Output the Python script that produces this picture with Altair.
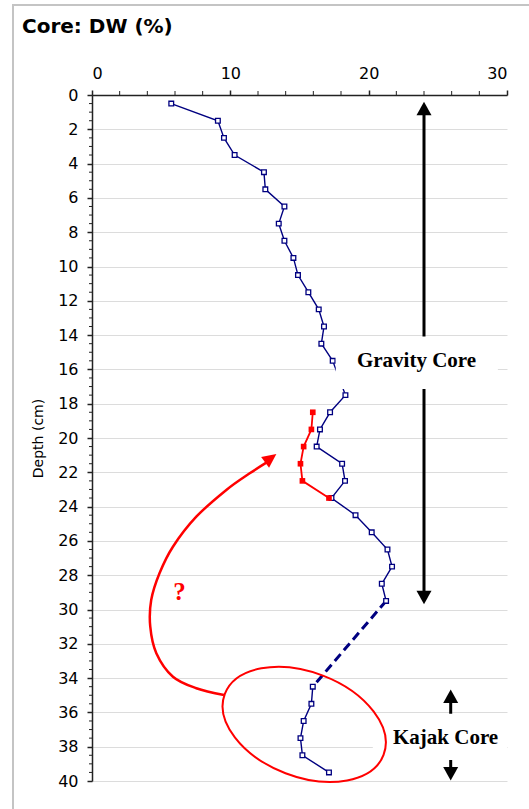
import altair as alt
import pandas as pd

# Gravity core: dry weight (%) by depth (cm)
gravity_depth = [0.5, 1.5, 2.5, 3.5, 4.5, 5.5, 6.5, 7.5, 8.5, 9.5, 10.5, 11.5, 12.5, 13.5,
                 14.5, 15.5, 17.5, 18.5, 19.5, 20.5, 21.5, 22.5, 23.5, 24.5, 25.5, 26.5,
                 27.5, 28.5, 29.5]
gravity_dw = [5.73, 9.10, 9.54, 10.31, 12.43, 12.53, 13.91, 13.50, 13.91, 14.56, 14.89, 15.64,
              16.39, 16.77, 16.58, 17.40, 18.32, 17.21, 16.48, 16.24, 18.08, 18.29, 17.31,
              19.05, 20.22, 21.36, 21.69, 20.95, 21.26]

# Kajak core: dry weight (%) by depth (cm)
kajak_depth = [34.5, 35.5, 36.5, 37.5, 38.5, 39.5]
kajak_dw = [15.96, 15.86, 15.30, 15.07, 15.21, 17.13]

# Kajak profile moved up to the matching stretch of the gravity core
shifted_depth = [18.5, 19.5, 20.5, 21.5, 22.5, 23.5]
shifted_dw = kajak_dw

# Dashed link between the two cores
link_depth = [29.5, 34.5]
link_dw = [21.26, 15.96]

# Axis ticks
x_major = [0, 10, 20, 30]
x_minor = [2, 4, 6, 8, 12, 14, 16, 18, 22, 24, 26, 28]
y_major = list(range(0, 41, 2))
y_minor = [i * 0.5 for i in range(81) if i % 4]

# Annotations (data coordinates)
gravity_arrow_dw = 24.0
gravity_stem = [1.0, 29.0]
gravity_heads = [0.78, 29.3]
kajak_arrow_dw = 25.93
kajak_stem = [35.3, 39.3]
kajak_heads = [35.06, 39.57]
head_angles = [0, 180]
label_text = ["Gravity Core", "Kajak Core"]
label_dw = [23.46, 25.56]
label_depth = [15.5, 37.47]
box_dw = [17.62, 20.3]
box_dw2 = [29.34, 30.0]
box_depth = [14.08, 36.08]
box_depth2 = [17.15, 38.78]
ellipse_dw, ellipse_depth, ellipse_angle = 15.34, 36.7, 21
curve_dw = [9.54, 7.54, 5.85, 4.65, 4.21, 4.28, 4.88, 5.85, 7.54, 9.71, 11.40, 12.72]
curve_depth = [34.99, 34.59, 33.92, 32.55, 30.99, 29.45, 27.89, 26.34, 24.59, 23.03, 22.06, 21.38]
curve_head = (12.92, 21.18, 53.5)
question = (6.33, 28.96)
chart_title = "Core: DW (%)"

NAVY = "#000080"
RED = "#FF0000"
HEAD = "M0,-0.9L1,0.9L-1,0.9Z"
RED_HEAD = "M0,-1L0.95,1L-0.95,1Z"
ELLIPSE = ("M1,0C1,0.34 0.552,0.615 0,0.615C-0.552,0.615 -1,0.34 -1,0"
           "C-1,-0.34 -0.552,-0.615 0,-0.615C0.552,-0.615 1,-0.34 1,0Z")

x_scale = alt.Scale(domain=[0, 30], nice=False, zero=False)
y_scale = alt.Scale(domain=[0, 40], nice=False, zero=False, reverse=True)
x_axis = alt.Axis(orient="top", values=x_major, title=None, grid=False, format="d",
                  tickSize=5, labelPadding=9, labelFont="DejaVu Sans", labelFontSize=16,
                  labelColor="black", domainColor="#222", domainWidth=1.5,
                  tickColor="#222", tickWidth=1.5)
y_axis = alt.Axis(orient="left", values=y_major, title="Depth (cm)", grid=True,
                  gridColor="#dcdcdc", gridWidth=1, format="d",
                  tickSize=5, labelPadding=9, labelFont="DejaVu Sans", labelFontSize=16,
                  labelColor="black", domainColor="#222", domainWidth=1.5,
                  tickColor="#222", tickWidth=1.5,
                  titleFont="DejaVu Sans", titleFontSize=14, titleFontWeight="normal",
                  titleColor="black", titleX=-54, titleY=343, titleBaseline="middle",
                  titleAngle=270)


def X(field="dw"):
    return alt.X(f"{field}:Q", scale=x_scale, axis=x_axis)


def Y(field="depth"):
    return alt.Y(f"{field}:Q", scale=y_scale, axis=y_axis)


one = pd.DataFrame({"k": [0]})

# Light grey frame around the whole figure
frame = alt.Chart(one).mark_rect(fillOpacity=0, stroke="#c4c4c4", strokeWidth=2).encode(
    x=alt.value(-79), x2=alt.value(700), y=alt.value(-90), y2=alt.value(900))

heading = alt.Chart(pd.DataFrame({"t": [chart_title]})).mark_text(
    font="DejaVu Sans", fontWeight="bold", fontSize=20, color="black",
    align="left", baseline="alphabetic").encode(
    x=alt.value(-70), y=alt.value(-62), text="t:N")

y_minor_ticks = alt.Chart(pd.DataFrame({"depth": y_minor})).mark_rule(
    color="#222", strokeWidth=1).encode(y=Y(), x=alt.value(-3), x2=alt.value(0))
x_minor_ticks = alt.Chart(pd.DataFrame({"dw": x_minor})).mark_rule(
    color="#222", strokeWidth=1).encode(x=X(), y=alt.value(-4), y2=alt.value(0))

stems = alt.Chart(pd.DataFrame({
    "dw": [gravity_arrow_dw] * 2 + [kajak_arrow_dw] * 2,
    "depth": gravity_stem + kajak_stem,
    "g": ["g", "g", "k", "k"],
})).mark_line(color="black", strokeWidth=3).encode(
    x=X(), y=Y(), detail="g:N", order="depth:Q")

heads = alt.Chart(pd.DataFrame({
    "dw": [gravity_arrow_dw] * 2 + [kajak_arrow_dw] * 2,
    "depth": gravity_heads + kajak_heads,
    "angle": head_angles * 2,
})).mark_point(shape=HEAD, size=225, filled=True, color="black", opacity=1,
               strokeWidth=0).encode(
    x=X(), y=Y(), angle=alt.Angle("angle:Q", scale=None))

link = alt.Chart(pd.DataFrame({"dw": link_dw, "depth": link_depth})).mark_line(
    color=NAVY, strokeWidth=3, strokeDash=[9, 5]).encode(x=X(), y=Y(), order="depth:Q")

gravity_df = pd.DataFrame({"dw": gravity_dw, "depth": gravity_depth})
kajak_df = pd.DataFrame({"dw": kajak_dw, "depth": kajak_depth})
blue_lines = alt.layer(
    alt.Chart(gravity_df).mark_line(color=NAVY, strokeWidth=1.4).encode(
        x=X(), y=Y(), order="depth:Q"),
    alt.Chart(kajak_df).mark_line(color=NAVY, strokeWidth=1.4).encode(
        x=X(), y=Y(), order="depth:Q"),
)
blue_points = alt.Chart(pd.concat([gravity_df, kajak_df])).mark_point(
    shape="square", size=22, filled=True, fill="white", stroke=NAVY, strokeWidth=1.3,
    opacity=1).encode(x=X(), y=Y())

shifted_df = pd.DataFrame({"dw": shifted_dw, "depth": shifted_depth})
red_line = alt.Chart(shifted_df).mark_line(color=RED, strokeWidth=1.8).encode(
    x=X(), y=Y(), order="depth:Q")
red_points = alt.Chart(shifted_df).mark_point(
    shape="square", size=32, filled=True, color=RED, opacity=1).encode(x=X(), y=Y())

boxes = alt.Chart(pd.DataFrame({
    "dw": box_dw, "dw2": box_dw2, "depth": box_depth, "depth2": box_depth2,
})).mark_rect(color="white").encode(x=X(), x2="dw2:Q", y=Y(), y2="depth2:Q")

labels = alt.Chart(pd.DataFrame({
    "dw": label_dw, "depth": label_depth, "t": label_text,
})).mark_text(font="Liberation Serif", fontWeight="bold", fontSize=21, color="black",
              align="center", baseline="middle").encode(x=X(), y=Y(), text="t:N")

ellipse = alt.Chart(pd.DataFrame({"dw": [ellipse_dw], "depth": [ellipse_depth],
                                  "angle": [ellipse_angle]})).mark_point(
    shape=ELLIPSE, size=28900, filled=False, stroke=RED, strokeWidth=2, opacity=1).encode(
    x=X(), y=Y(), angle=alt.Angle("angle:Q", scale=None))

curve = alt.Chart(pd.DataFrame({
    "dw": curve_dw, "depth": curve_depth, "i": list(range(len(curve_dw))),
})).mark_line(color=RED, strokeWidth=2.5, interpolate="cardinal").encode(
    x=X(), y=Y(), order="i:Q")

curve_tip = alt.Chart(pd.DataFrame({"dw": [curve_head[0]], "depth": [curve_head[1]],
                                    "angle": [curve_head[2]]})).mark_point(
    shape=RED_HEAD, size=196, filled=True, color=RED, opacity=1, strokeWidth=0).encode(
    x=X(), y=Y(), angle=alt.Angle("angle:Q", scale=None))

qmark = alt.Chart(pd.DataFrame({"dw": [question[0]], "depth": [question[1]],
                                "t": ["?"]})).mark_text(
    font="Liberation Serif", fontWeight="bold", fontSize=25, color=RED,
    align="center", baseline="middle").encode(x=X(), y=Y(), text="t:N")

chart = alt.layer(
    frame, heading, y_minor_ticks, x_minor_ticks, stems, link, blue_lines, blue_points,
    red_line, red_points, boxes, heads, labels, ellipse, curve, curve_tip, qmark,
).properties(
    width=415, height=686,
    autosize=alt.AutoSizeParams(type="none"),
    padding={"left": 92, "top": 95, "right": 22, "bottom": 28},
    background="white",
).configure_view(strokeWidth=0)

chart.save("out.html", embed_options={"renderer": "svg", "actions": False})
